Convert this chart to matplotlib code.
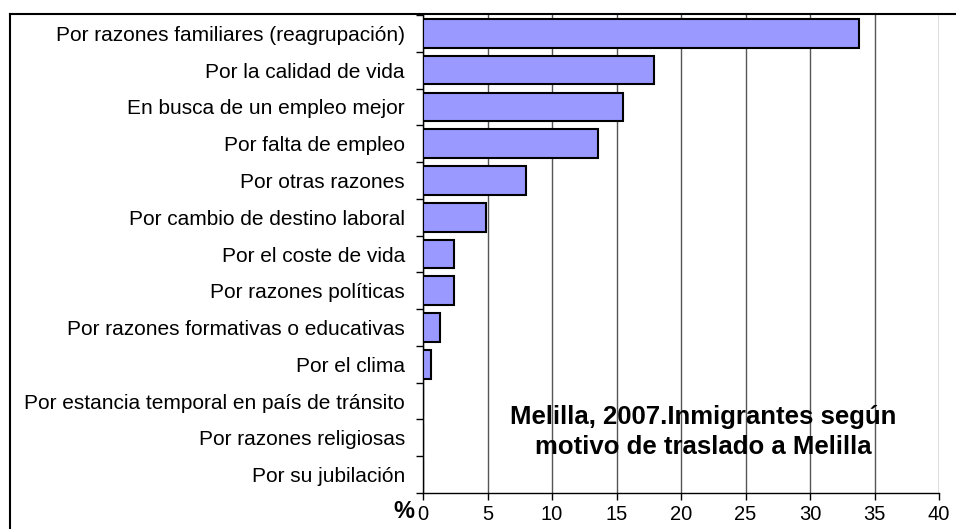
import matplotlib
matplotlib.use("Agg")
import matplotlib.pyplot as plt
from matplotlib.lines import Line2D

plt.rcParams['font.family'] = ['Liberation Sans', 'DejaVu Sans']

categories = [
    "Por razones familiares (reagrupación)",
    "Por la calidad de vida",
    "En busca de un empleo mejor",
    "Por falta de empleo",
    "Por otras razones",
    "Por cambio de destino laboral",
    "Por el coste de vida",
    "Por razones políticas",
    "Por razones formativas o educativas",
    "Por el clima",
    "Por estancia temporal en país de tránsito",
    "Por razones religiosas",
    "Por su jubilación",
]
values = [33.8, 17.9, 15.5, 13.6, 8.0, 4.9, 2.4, 2.4, 1.3, 0.6, 0.0, 0.0, 0.0]
xticks = [0, 5, 10, 15, 20, 25, 30, 35, 40]

W, H = 956, 529
fig = plt.figure(figsize=(W / 100, H / 100), dpi=100)
left, right, top, bottom = 423, 939, 15, 493
ax = fig.add_axes([left / W, 1 - bottom / H, (right - left) / W, (bottom - top) / H])

y = list(range(len(categories)))
ax.barh(y, values, height=0.78, color='#9999FF', edgecolor='black', linewidth=1.5, zorder=3)
ax.set_ylim(len(categories) - 0.5, -0.5)
ax.set_xlim(0, 40)
ax.set_xticks(xticks)
ax.set_xticklabels([str(t) for t in xticks], fontsize=14.5)
ax.set_yticks(y)
ax.set_yticklabels(categories, fontsize=15)
ax.set_yticks([i + 0.5 for i in range(-1, len(categories))], minor=True)
ax.tick_params(axis='y', which='major', length=0, pad=13)
ax.tick_params(axis='y', which='minor', length=5, width=1, direction='out')
ax.tick_params(axis='x', which='major', length=5, width=1, direction='out', pad=4)
ax.grid(axis='x', color='#555555', linewidth=1, zorder=0)
for s in ['top', 'right']:
    ax.spines[s].set_visible(False)
ax.spines['left'].set_linewidth(1)
ax.spines['bottom'].set_linewidth(1)

# % label
fig.text(404 / W, 1 - 512 / H, "%", fontsize=17, fontweight='bold', ha='center', va='center')

# title inside plot
fig.text(703 / W, 1 - 432 / H, "Melilla, 2007.Inmigrantes según\nmotivo de traslado a Melilla",
         fontsize=18.5, fontweight='bold', ha='center', va='center', linespacing=1.3)

# chart frame
fig.add_artist(Line2D([10 / W, 1], [1 - 14 / H, 1 - 14 / H], color='black', linewidth=1.5,
                      transform=fig.transFigure))
fig.add_artist(Line2D([10 / W, 10 / W], [1 - 14 / H, 0], color='black', linewidth=1.5,
                      transform=fig.transFigure))

fig.savefig("out.png", dpi=100)
